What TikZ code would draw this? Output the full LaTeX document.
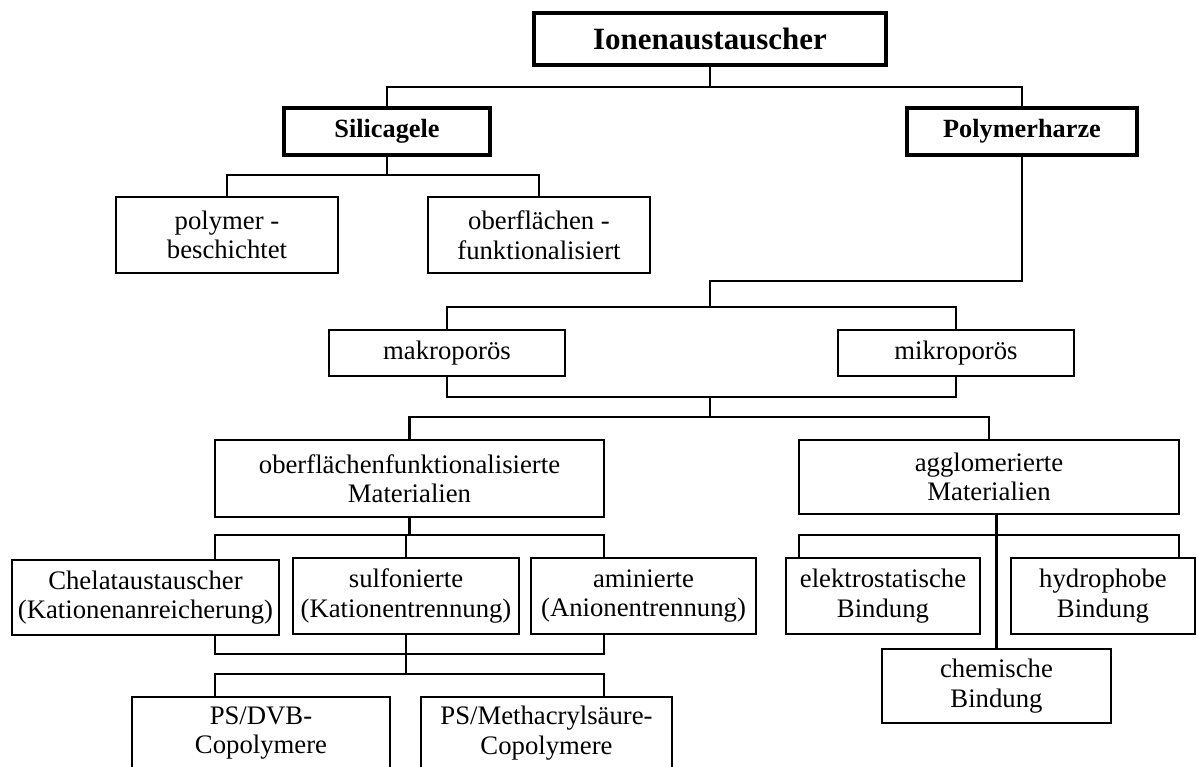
\documentclass[tikz,border=0pt]{standalone}
\usepackage{fontspec}
\setmainfont{Liberation Serif}
\usepackage{tikz}

\begin{document}
\begin{tikzpicture}[x=0.025cm,y=-0.025cm,
	box/.style={draw,line width=2pt,inner sep=0pt,align=center,font=\fontsize{19}{21}\selectfont},
	headbox/.style={box,line width=3.3pt,font=\fontsize{18.7}{21}\selectfont\bfseries},
	conn/.style={line width=1.6pt}]
		\useasboundingbox (0,0) rectangle (1197,767);
		\node[headbox,minimum width=8.8cm,minimum height=1.3cm,font=\fontsize{22}{26}\selectfont\bfseries] (ion) at (710,39) {Ionenaustauscher};
		\node[headbox,minimum width=5.15cm,minimum height=1.175cm] (sil) at (387,131.5) {Silicagele};
		\node[headbox,minimum width=5.75cm,minimum height=1.175cm] (pol) at (1022,131.5) {Polymerharze};
		\node[box,minimum width=5.55cm,minimum height=1.9cm] (pb) at (227,235) {polymer -\\beschichtet};
		\node[box,minimum width=5.55cm,minimum height=1.9cm] (of) at (539,235) {oberflächen -\\funktionalisiert};
		\node[box,minimum width=5.9cm,minimum height=1.15cm] (makro) at (447,353) {makroporös};
		\node[box,minimum width=5.9cm,minimum height=1.15cm] (mikro) at (956,353) {mikroporös};
		\node[box,minimum width=9.725cm,minimum height=1.925cm] (ofm) at (409.5,478.5) {oberflächenfunktionalisierte\\Materialien};
		\node[box,minimum width=9.5cm,minimum height=1.85cm] (agg) at (989,477) {agglomerierte\\Materialien};
		\node[box,minimum width=6.675cm,minimum height=1.875cm] (chel) at (145.5,597.5) {Chelataustauscher\\(Kationenanreicherung)};
		\node[box,minimum width=5.65cm,minimum height=1.9cm] (sulf) at (406,596) {sulfonierte\\(Kationentrennung)};
		\node[box,minimum width=5.625cm,minimum height=1.9cm] (amin) at (643.5,596) {aminierte\\(Anionentrennung)};
		\node[box,minimum width=4.85cm,minimum height=1.9cm] (elek) at (883,596) {elektrostatische\\Bindung};
		\node[box,minimum width=4.6cm,minimum height=1.9cm] (hyd) at (1103,596) {hydrophobe\\Bindung};
		\node[box,minimum width=5.725cm,minimum height=1.85cm] (chem) at (996.5,686) {chemische\\Bindung};
		\node[box,minimum width=6.45cm,minimum height=1.8cm] (dvb) at (261,733) {PS/DVB-\\Copolymere};
		\node[box,minimum width=6.275cm,minimum height=1.8cm] (pma) at (546.5,733) {PS/Methacrylsäure-\\Copolymere};
		
		\coordinate (t1) at (710,87);
		\draw[conn] (ion.south) -- (t1);
		\draw[conn] (sil.north) |- (t1) -| (pol.north);
		
		\coordinate (s1) at (387,175);
		\draw[conn] (sil.south) -- (s1);
		\draw[conn] (pb.north) |- (s1) -| (of.north);
		
		\coordinate (p1) at (1022,281);
		\coordinate (p2) at (710,281);
		\coordinate (p3) at (710,307);
		\draw[conn] (pol.south) -- (p1) -- (p2) -- (p3);
		\draw[conn] (makro.north) |- (p3) -| (mikro.north);
		
		\coordinate (m1) at (710,397);
		\coordinate (m2) at (710,417);
		\draw[conn] (makro.south) |- (m1) -| (mikro.south);
		\draw[conn] (m1) -- (m2);
		\draw[conn] (ofm.north) |- (m2) -| (agg.north);
		
		\coordinate (oL) at (215,535);
		\coordinate (oR) at (604,535);
		\draw[conn] (ofm.south) -- (ofm.south |- oL);
		\draw[conn] (oL |- chel.north) -- (oL) -- (oR) -- (oR |- amin.north);
		\draw[conn] (sulf.north) -- (sulf.north |- oL);
		
		\coordinate (uL) at (215,654);
		\coordinate (uR) at (604,654);
		\coordinate (vL) at (215,674);
		\coordinate (vR) at (604,674);
		\draw[conn] (uL |- chel.south) -- (uL) -- (uR) -- (uR |- amin.south);
		\draw[conn] (sulf.south) -- (sulf.south |- vL);
		\draw[conn] (vL |- dvb.north) -- (vL) -- (vR) -- (vR |- pma.north);
		
		\coordinate (aL) at (799,535);
		\coordinate (aR) at (1179,535);
		\draw[conn] (aL |- elek.north) -- (aL) -- (aR) -- (aR |- hyd.north);
		\draw[conn] (chem.north |- agg.south) -- (chem.north);
\end{tikzpicture}
\end{document}
